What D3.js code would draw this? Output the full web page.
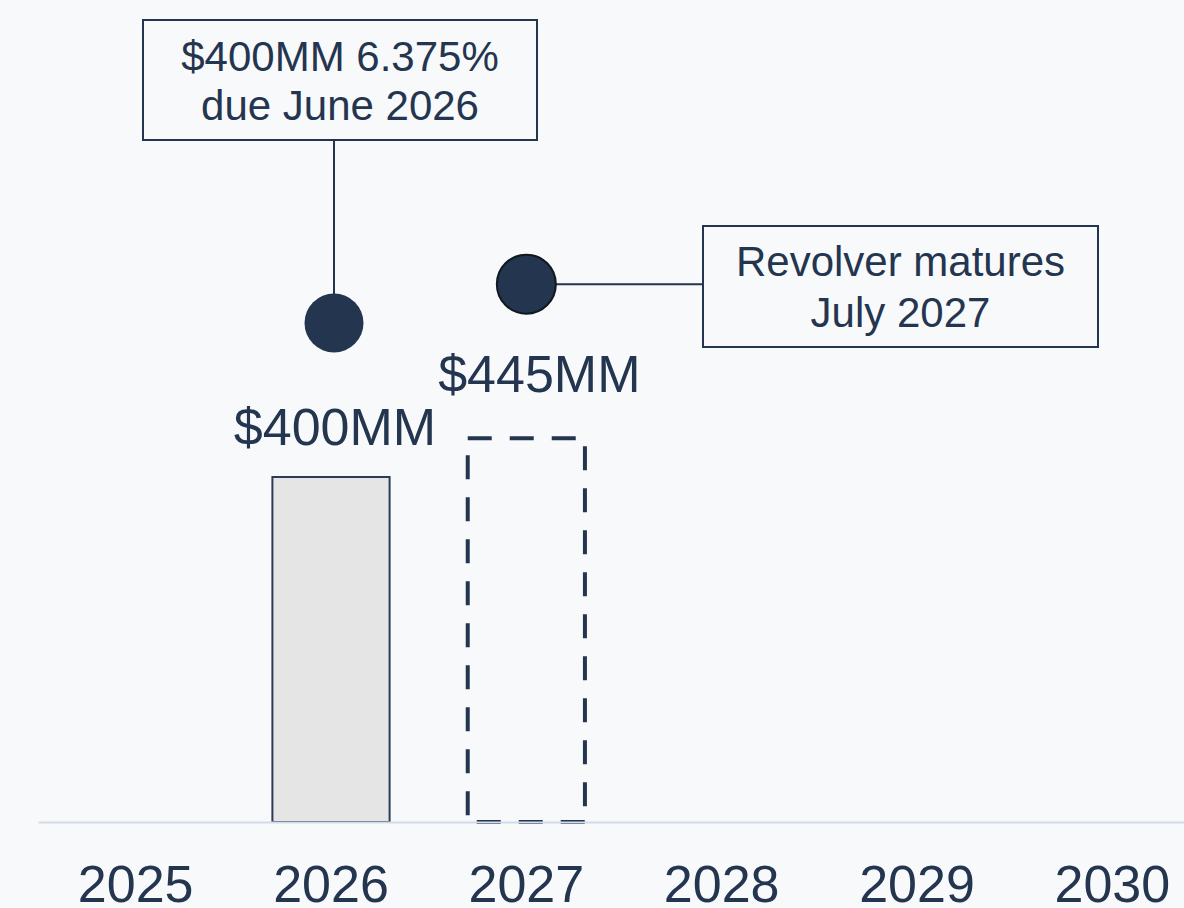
<!DOCTYPE html>
<html>
<head>
<meta charset="utf-8">
<script src="https://cdn.jsdelivr.net/npm/d3@7"></script>
<style>
  html, body { margin: 0; padding: 0; background: #f8f9fb; }
  svg { display: block; }
  text { font-family: "Liberation Sans", Arial, sans-serif; }
</style>
</head>
<body>
<svg id="chart" width="1184" height="908"></svg>
<script>
// ---- data ----
const years = ["2025", "2026", "2027", "2028", "2029", "2030"];
const notesAmount = [0, 400, 0, 0, 0, 0];      // solid bar ($MM)
const revolverAmount = [0, 0, 445, 0, 0, 0];   // dashed bar ($MM)
const barLabels = ["", "$400MM", "$445MM", "", "", ""];
const callout1Lines = ["$400MM 6.375%", "due June 2026"];
const callout2Lines = ["Revolver matures", "July 2027"];

// ---- setup ----
const W = 1184, H = 908;
const navy = "#24354f";
const svg = d3.select("#chart");
svg.append("rect").attr("width", W).attr("height", H).attr("fill", "#f8f9fb");

const x = d3.scaleBand().domain(years).range([38, 1210]).paddingInner(0.4).paddingOuter(0.2);
const y = d3.scaleLinear().domain([0, 900]).range([822, 822 - 900 * 0.8625]);
const cx = yr => x(yr) + x.bandwidth() / 2;

// solid bars
svg.selectAll("rect.notes")
  .data(years.map((yr, i) => ({ yr, v: notesAmount[i] })).filter(d => d.v > 0))
  .join("rect")
  .attr("class", "notes")
  .attr("x", d => x(d.yr))
  .attr("y", d => y(d.v))
  .attr("width", x.bandwidth())
  .attr("height", d => y(0) - y(d.v))
  .attr("fill", "#e5e5e5")
  .attr("stroke", "#2c3c57")
  .attr("stroke-width", 2);

// dashed bars (each side dashed separately)
const revData = years.map((yr, i) => ({ yr, v: revolverAmount[i] })).filter(d => d.v > 0);
revData.forEach(d => {
  const x0 = x(d.yr), x1 = x(d.yr) + x.bandwidth(), y0 = y(d.v), y1 = y(0);
  const sides = [
    { a: [x0, y0], b: [x1, y0], off: 0 },
    { a: [x1, y0], b: [x1, y1], off: -8 },
    { a: [x0, y0], b: [x0, y1], off: -17 },
    { a: [x0, y1], b: [x1, y1], off: -9 }
  ];
  sides.forEach(s => {
    svg.append("line")
      .attr("x1", s.a[0]).attr("y1", s.a[1]).attr("x2", s.b[0]).attr("y2", s.b[1])
      .attr("stroke", navy).attr("stroke-width", 4)
      .attr("stroke-dasharray", "24,18").attr("stroke-dashoffset", s.off);
  });
});

// axis
const axis = svg.append("g")
  .attr("transform", `translate(0,${y(0)})`)
  .call(d3.axisBottom(x).tickSize(0).tickPadding(43));
axis.select(".domain").attr("stroke", "#d3dbe8").attr("stroke-width", 2);
axis.selectAll(".tick text")
  .attr("fill", navy)
  .attr("font-size", 52)
  .attr("font-family", "'Liberation Sans', Arial, sans-serif");

// bar value labels
const totals = years.map((yr, i) => notesAmount[i] + revolverAmount[i]);
const labelDx = i => (revolverAmount[i] > 0 ? 13 : 4);
const labelGap = i => (revolverAmount[i] > 0 ? 46 : 32);
svg.selectAll("text.vlabel")
  .data(years.map((yr, i) => ({ yr, i, t: barLabels[i], v: totals[i] })).filter(d => d.t))
  .join("text")
  .attr("class", "vlabel")
  .attr("x", d => cx(d.yr) + labelDx(d.i))
  .attr("y", d => y(d.v) - labelGap(d.i))
  .attr("text-anchor", "middle")
  .attr("font-size", 52)
  .attr("fill", navy)
  .text(d => d.t);

// dots above bars
const dotOffset = 154;
const dot1 = { x: cx("2026") + 3, y: y(notesAmount[1]) - dotOffset };
const dot2 = { x: cx("2027"), y: y(revolverAmount[2]) - dotOffset };
const R = 29.5;

// callout 1
const box1 = { x: 143, y: 20, w: 394, h: 120 };
svg.append("line")
  .attr("x1", dot1.x).attr("x2", dot1.x)
  .attr("y1", box1.y + box1.h).attr("y2", dot1.y)
  .attr("stroke", navy).attr("stroke-width", 2);
svg.append("rect")
  .attr("x", box1.x).attr("y", box1.y).attr("width", box1.w).attr("height", box1.h)
  .attr("fill", "none").attr("stroke", navy).attr("stroke-width", 2);
svg.selectAll("text.c1")
  .data(callout1Lines).join("text")
  .attr("class", "c1")
  .attr("x", box1.x + box1.w / 2)
  .attr("y", (d, i) => 71 + i * 49)
  .attr("text-anchor", "middle")
  .attr("font-size", 42)
  .attr("fill", navy)
  .text(d => d);

// callout 2
const box2 = { x: 703, y: 226, w: 395, h: 121 };
svg.append("line")
  .attr("x1", dot2.x).attr("x2", box2.x)
  .attr("y1", dot2.y).attr("y2", dot2.y)
  .attr("stroke", navy).attr("stroke-width", 2);
svg.append("rect")
  .attr("x", box2.x).attr("y", box2.y).attr("width", box2.w).attr("height", box2.h)
  .attr("fill", "none").attr("stroke", navy).attr("stroke-width", 2);
svg.selectAll("text.c2")
  .data(callout2Lines).join("text")
  .attr("class", "c2")
  .attr("x", box2.x + box2.w / 2)
  .attr("y", (d, i) => 276 + i * 51)
  .attr("text-anchor", "middle")
  .attr("font-size", 42)
  .attr("fill", navy)
  .text(d => d);

// dots
svg.append("circle").attr("cx", dot1.x).attr("cy", dot1.y).attr("r", R).attr("fill", navy);
svg.append("circle").attr("cx", dot2.x).attr("cy", dot2.y).attr("r", R)
  .attr("fill", navy).attr("stroke", "#101820").attr("stroke-width", 2);
</script>
</body>
</html>
